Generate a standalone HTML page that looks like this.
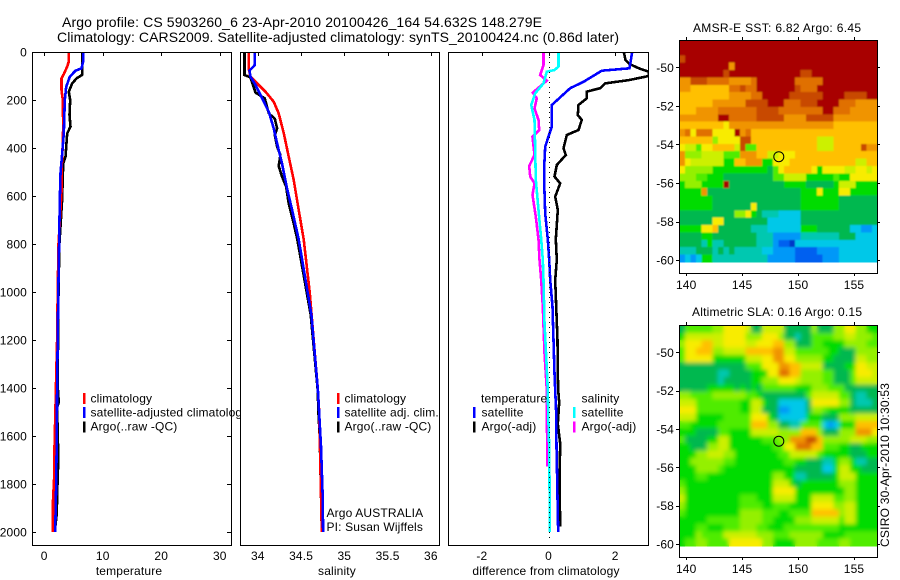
<!DOCTYPE html>
<html>
<head>
<meta charset="utf-8">
<title>Argo profile</title>
<style>
html,body{margin:0;padding:0;background:#fff;}
body{width:900px;height:580px;overflow:hidden;}
svg{display:block;}
text{font-family:"Liberation Sans",sans-serif;font-size:12px;fill:#000;letter-spacing:0.15px;}
</style>
</head>
<body>
<svg id="chart" xmlns="http://www.w3.org/2000/svg" width="900" height="580" viewBox="0 0 900 580">
<defs>
<filter id="blur-sst" filterUnits="userSpaceOnUse" x="670" y="30" width="220" height="250"><feGaussianBlur stdDeviation="0.8"/></filter>
<filter id="blur-sla" filterUnits="userSpaceOnUse" x="670" y="315" width="220" height="250"><feGaussianBlur stdDeviation="2"/></filter>
</defs>
<rect x="0" y="0" width="900" height="580" fill="#fff"/>
<text x="62" y="27" textLength="480" style="font-size:14px;letter-spacing:0">Argo profile: CS 5903260_6 23-Apr-2010 20100426_164 54.632S 148.279E</text>
<text x="57" y="42" textLength="562" style="font-size:14px;letter-spacing:0">Climatology: CARS2009. Satellite-adjusted climatology: synTS_20100424.nc (0.86d later)</text>
<text x="693" y="32" textLength="168" style="letter-spacing:0">AMSR-E SST: 6.82 Argo: 6.45</text>
<text x="692" y="316" textLength="170" style="letter-spacing:0">Altimetric SLA: 0.16 Argo: 0.15</text>
<text transform="translate(889,547) rotate(-90)" textLength="164" style="letter-spacing:0">CSIRO 30-Apr-2010 10:30:53</text>
</svg>
<script>
// ---- profile data (depth in dbar, values in axis units) ----
const depthTicks = [0,200,400,600,800,1000,1200,1400,1600,1800,2000];
const tempTicks = [0,10,20,30];
const salTicks = [34,34.5,35,35.5,36];
const salTickLabels = ['34','34.5','35','35.5','36'];
const diffTicks = [-2,0,2];
const lonTicks = [140,145,150,155];
const latTicks = [-50,-52,-54,-56,-58,-60];

const tempClimDepth = [0,40,61,92,110,158,200,311,408,478,561,800,1000,1200,1400,1460,1680,1760,1870,2000];
const tempClimValue = [4.2,4.2,3.93,3.35,2.96,2.96,3.18,3.24,3.13,3.0,3.0,2.45,2.3,2.2,2.0,1.95,1.72,1.72,1.5,1.5];
const tempSatDepth = [0,40,68,78,103,145,200,339,422,506,617,800,1000,1200,1400,1600,1800,2000];
const tempSatValue = [6.66,6.66,6.38,5.35,4.38,3.76,3.52,3.35,3.07,2.79,2.67,2.55,2.4,2.3,2.2,2.15,2.05,1.88];
const tempArgoDepth = [0,95,110,131,166,200,262,311,339,436,464,617,800,1000,1200,1400,1460,1480,1640,1735,1850,1923,2000];
const tempArgoValue = [6.5,6.5,5.52,4.78,4.2,4.44,4.32,4.5,3.93,3.64,3.24,3.05,2.6,2.45,2.35,2.33,2.5,2.2,2.35,2.35,2.2,2.15,1.8];

const salClimDepth = [0,72,103,124,165,207,256,339,436,533,658,781,1000,1200,1408,1500,1670,2000];
const salClimValue = [33.896,33.896,33.915,33.973,34.088,34.184,34.242,34.3,34.357,34.415,34.473,34.53,34.6,34.646,34.695,34.71,34.72,34.74];
const salSatDepth = [0,54,78,103,137,193,249,318,381,464,568,658,781,1095,1408,1644,1852,2000];
const salSatValue = [33.965,33.965,33.904,33.915,33.973,34.05,34.127,34.184,34.223,34.28,34.338,34.396,34.473,34.619,34.695,34.73,34.75,34.755];
const salArgoDepth = [0,96,106,169,193,256,278,318,346,394,429,475,519,561,631,714,781,1095,1408,1500,1600,2000];
const salArgoValue = [33.846,33.846,33.915,33.973,34.08,34.127,34.196,34.223,34.196,34.223,34.261,34.242,34.28,34.327,34.357,34.415,34.457,34.611,34.692,34.70,34.715,34.74];

const diffTempSatDepth = [0,68,78,124,151,221,311,394,478,547,672,781,866,950,1061,1200,1339,1408,1506,1645,1784,1923,2000];
const diffTempSatValue = [2.51,2.43,1.6,1.05,0.65,0.10,0.10,-0.10,-0.13,-0.13,-0.10,-0.02,0.02,0.05,0.12,0.15,0.18,0.2,0.23,0.24,0.26,0.28,0.29];
const diffTempArgoDepth = [0,33,50,68,82,100,117,131,151,165,193,221,263,283,325,346,401,429,471,519,547,603,658,781,866,950,1061,1200,1339,1408,1460,1550,1631,1784,1978];
const diffTempArgoValue = [2.26,2.31,2.43,2.71,3.01,3.01,2.41,1.70,1.55,1.15,1.15,0.90,0.88,1.0,0.90,0.55,0.45,0.52,0.25,0.18,0.35,0.2,0.28,0.22,0.25,0.2,0.23,0.27,0.28,0.29,0.32,0.28,0.35,0.33,0.35];
const diffSalSatDepth = [0,61,75,82,131,172,221,283,408,533,658,781,866,950,1130,1269,1408,1506,1645,1784,2000];
const diffSalSatValue = [0.30,0.30,0.18,-0.05,-0.15,-0.40,-0.52,-0.42,-0.40,-0.38,-0.30,-0.22,-0.17,-0.15,-0.12,-0.07,-0.02,-0.01,0.02,0.03,0.04];
const diffSalArgoDepth = [0,54,96,119,131,169,193,235,283,325,353,429,475,519,547,596,686,781,866,950,1061,1255,1408,1506,1728];
const diffSalArgoValue = [-0.15,-0.15,-0.25,-0.05,-0.15,-0.47,-0.35,-0.42,-0.30,-0.28,-0.48,-0.42,-0.58,-0.55,-0.42,-0.48,-0.38,-0.30,-0.27,-0.22,-0.17,-0.12,-0.05,-0.05,-0.03];

// ---- map data: colour-level per cell, rows north to south ----
const sstGrid = [
[15,15,15,15,15,15,15,15,15,15,15,15,15,15,15,15,15,15,15,15,15,15,15,15,15,15,15,15,15,15,15,15,15,15,15,15],
[15,15,15,15,15,15,15,15,15,15,15,15,15,15,15,15,15,15,15,15,15,15,15,15,15,15,15,15,15,15,15,15,15,15,15,15],
[14,15,15,15,15,15,15,15,15,15,15,15,15,15,15,15,15,15,15,15,15,15,15,15,15,15,15,15,15,15,15,15,15,15,15,15],
[15,15,15,15,15,15,15,15,15,12,15,15,15,15,15,15,15,15,15,15,15,15,15,15,15,15,15,15,15,15,15,15,15,15,15,15],
[15,15,15,15,15,15,15,15,14,15,15,15,15,15,15,15,15,15,15,15,15,15,14,14,15,15,15,15,15,15,15,15,15,15,15,15],
[12,12,14,14,14,13,13,13,13,12,12,12,12,13,15,15,15,15,15,15,15,13,13,13,13,13,15,15,15,15,15,15,15,15,15,15],
[12,12,11,11,11,11,11,11,11,13,13,14,13,13,15,15,15,15,15,15,15,14,13,13,13,15,15,15,15,15,15,15,15,15,15,15],
[11,11,11,11,11,11,11,11,11,12,12,12,12,13,13,15,15,15,15,15,14,14,14,14,14,14,15,15,15,15,14,14,14,14,15,15],
[11,11,11,11,11,11,12,12,12,12,12,12,14,14,14,14,15,15,15,13,13,13,14,14,14,15,15,15,15,13,13,13,12,12,12,12],
[11,11,11,12,12,12,12,13,13,13,13,13,13,13,14,14,14,14,13,13,13,13,13,13,13,13,15,15,13,13,13,12,12,12,12,12],
[12,12,12,12,12,12,12,15,15,13,13,13,13,13,14,14,14,14,14,12,12,12,12,14,14,14,14,14,12,12,12,12,12,12,12,12],
[11,11,11,11,11,11,11,11,10,12,12,12,12,12,12,12,12,12,12,12,12,12,12,12,12,12,12,12,11,11,11,11,11,11,11,11],
[12,13,10,13,13,13,10,10,10,10,15,12,13,11,11,11,11,11,11,11,11,11,11,11,11,11,11,11,11,11,11,11,11,11,11,11],
[11,11,11,11,11,11,8,10,10,10,10,14,14,11,11,11,11,11,11,11,11,11,11,11,11,9,9,9,11,11,11,11,11,11,11,11],
[10,9,9,7,10,10,11,11,11,11,9,14,7,7,11,11,11,11,11,11,11,11,11,11,11,9,9,9,11,11,11,11,11,14,12,12],
[12,8,8,8,9,9,9,9,7,7,7,12,12,12,11,11,9,9,10,10,10,11,11,11,11,11,11,11,11,11,11,11,11,11,11,11],
[12,10,9,9,9,9,9,9,6,6,11,11,12,12,12,6,6,10,10,10,11,11,11,11,11,11,11,11,11,11,11,11,9,9,11,11],
[10,8,8,8,8,8,6,6,6,6,6,6,6,6,6,6,5,7,10,11,11,11,11,11,10,6,10,10,10,10,9,9,10,10,9,10],
[8,8,8,7,7,6,6,6,5,5,5,5,5,5,5,5,5,7,7,9,9,9,9,6,6,6,6,6,7,6,6,10,10,10,10,10],
[6,8,8,8,6,6,6,6,15,5,5,5,5,5,5,5,5,5,5,6,6,6,6,5,5,5,5,5,6,9,9,9,6,6,6,6],
[6,6,6,6,12,5,5,5,5,5,5,5,5,5,5,5,5,5,5,5,5,5,6,6,6,10,6,6,6,10,10,6,6,6,6,6],
[6,6,6,6,6,6,5,5,5,5,5,5,5,5,5,5,5,5,5,5,5,5,6,6,6,6,6,6,6,5,5,5,5,5,5,5],
[6,6,6,6,6,6,5,5,5,5,5,5,5,10,5,5,5,5,5,5,5,5,6,6,6,6,6,6,6,5,5,5,5,5,5,5],
[5,5,5,5,5,5,5,5,5,5,8,8,10,6,5,4,4,4,3,3,3,3,5,5,5,5,5,5,5,5,5,5,5,5,5,5],
[5,5,5,5,5,5,10,10,5,5,5,5,5,5,5,5,3,3,3,3,3,3,5,5,5,5,5,5,5,5,5,5,5,5,5,5],
[6,6,6,6,10,10,11,5,5,5,5,5,5,4,4,4,3,3,3,3,3,3,6,6,6,5,5,5,5,5,5,3,3,2,2,3],
[5,5,5,5,6,6,5,5,5,5,5,5,5,5,4,4,4,2,2,2,2,2,4,4,4,4,4,4,4,5,5,5,3,3,3,3],
[5,5,5,5,4,6,4,4,5,5,5,5,5,5,4,4,4,2,1,1,0,3,3,3,3,3,3,3,3,3,3,3,3,3,3,3],
[4,4,4,5,5,5,4,5,4,5,4,4,4,4,4,3,3,2,2,2,2,1,1,1,1,2,2,2,2,3,3,3,3,3,3,3],
[2,3,2,3,6,6,4,4,4,4,4,4,4,4,4,4,2,2,2,2,2,1,1,1,1,1,2,2,2,3,3,3,3,3,3,3]
];
const slaGrid = [
[5,7,7,7,7,7,8,8,10,10,10,10,9,5,5,9,9,9,9,5,5,5,5,5,8,5,5,5,8,8,10,10,8,8,6,6],
[6,9,9,9,9,9,9,9,10,10,10,10,8,8,8,10,10,10,8,5,5,4,5,5,7,7,7,7,8,8,9,9,8,8,8,7],
[8,10,10,10,11,11,9,9,10,10,10,10,9,9,10,10,10,11,11,8,8,5,5,5,7,7,6,6,6,6,8,8,8,8,7,7],
[7,10,10,11,11,11,8,8,9,9,9,9,11,11,11,11,11,12,12,9,9,7,7,7,7,7,7,6,6,5,5,5,8,8,8,8],
[7,10,10,10,10,10,6,6,6,6,6,6,9,9,9,10,10,12,12,10,10,8,8,8,8,8,6,6,5,5,5,5,9,9,8,8],
[5,5,5,5,5,5,5,5,5,5,5,5,7,7,7,10,10,10,12,12,11,11,9,9,9,9,5,5,5,5,6,6,10,10,9,9],
[5,5,5,5,5,5,5,4,4,5,5,5,5,6,6,6,10,10,13,13,11,11,8,8,8,8,7,7,5,5,5,7,10,10,10,9],
[5,5,5,5,5,5,5,4,5,5,5,5,5,6,6,8,8,8,10,10,10,9,8,8,8,8,7,7,5,5,5,7,9,9,9,9],
[5,5,5,5,5,6,6,6,6,6,5,6,5,6,5,7,7,7,7,7,7,6,6,6,8,8,8,7,7,7,5,5,5,5,5,5],
[8,8,7,7,7,7,8,8,8,8,8,8,7,7,6,5,5,5,5,5,5,5,5,7,9,9,9,9,9,7,7,5,4,4,5,5],
[9,9,9,7,7,7,7,7,7,7,7,6,6,9,9,6,5,5,3,3,3,3,3,5,10,10,10,10,10,8,8,5,4,4,4,5],
[10,10,10,7,7,7,7,7,7,7,7,6,6,9,9,5,5,5,2,2,3,3,3,5,8,8,7,6,6,6,6,5,5,5,5,5],
[9,9,9,6,6,6,6,6,7,7,7,7,7,10,10,10,6,5,3,3,3,3,3,6,6,6,5,5,5,8,8,8,9,9,9,9],
[7,7,6,6,6,6,6,7,7,7,7,7,7,11,11,11,8,8,5,5,4,4,7,7,7,7,3,2,3,6,6,6,11,11,11,11],
[6,6,6,5,5,5,5,7,7,6,6,6,6,9,9,9,9,9,8,8,8,8,11,11,11,8,5,5,5,8,8,8,12,12,12,10],
[7,5,5,5,5,6,6,9,9,6,6,6,6,6,6,7,7,7,8,8,12,12,12,14,14,11,8,8,8,8,8,9,9,9,8,8],
[6,6,5,5,5,8,8,9,9,6,6,6,6,6,6,6,6,7,7,10,10,13,13,13,11,11,7,7,7,6,6,5,5,6,6,6],
[6,6,6,8,8,9,9,9,8,8,6,6,6,6,6,6,6,6,7,7,9,9,9,9,9,7,6,6,6,6,6,5,5,5,6,6],
[6,6,8,8,8,8,8,8,7,7,6,6,6,6,6,6,6,6,6,7,7,6,6,5,5,5,4,4,6,8,8,6,4,4,5,5],
[6,6,6,8,8,8,8,7,6,6,6,6,6,6,6,6,6,6,6,6,6,5,5,5,5,5,3,3,6,9,9,6,6,5,5,5],
[6,6,6,7,7,6,6,6,6,6,6,6,6,6,6,6,6,8,8,6,6,4,4,5,5,5,5,5,6,9,9,9,6,6,6,6],
[7,6,6,6,6,6,6,6,6,6,6,6,6,6,6,6,6,9,9,9,6,5,6,6,6,6,6,6,6,8,8,8,6,6,6,6],
[8,6,6,6,6,6,6,6,6,6,6,6,6,6,6,6,6,10,10,10,10,6,6,6,6,6,6,6,6,6,8,8,6,6,6,6],
[9,6,6,6,6,6,6,6,6,6,6,7,7,7,6,6,6,9,9,9,9,6,6,6,9,9,9,9,7,7,8,8,6,6,6,6],
[8,6,6,6,6,6,6,6,6,6,6,7,7,7,7,6,6,7,7,7,6,6,6,6,10,10,10,10,8,8,9,9,6,6,6,6],
[7,6,6,6,6,6,6,6,6,6,6,8,8,8,8,7,7,7,6,6,7,7,7,7,11,11,11,11,11,8,9,9,6,6,6,6],
[6,6,6,6,6,7,7,7,7,7,7,8,8,8,8,7,7,6,6,6,6,8,8,8,9,9,9,9,9,7,9,9,6,6,6,6],
[6,6,6,7,7,6,6,6,7,7,7,8,8,8,7,7,6,6,6,7,7,7,7,7,7,7,7,7,7,6,6,6,6,6,6,6],
[6,6,6,8,7,7,7,7,9,9,9,9,9,9,8,8,8,7,7,7,8,8,8,8,8,8,6,6,6,6,7,7,7,7,7,7],
[6,7,7,8,8,7,7,7,7,10,10,10,10,10,10,8,8,6,6,6,6,8,8,8,8,7,7,7,7,8,8,7,7,7,7,7]
];
const mapPalette = ['#0038c8','#0060f0','#0098f8','#00c8e8','#00c8b0','#00b850','#00dc00','#50ec00','#94f000','#ccf000','#f8ec00','#ffc000','#f09400','#e07000','#c84800','#a80000'];
const sstArgoPoint = [148.279,-54.632];
const slaArgoPoint = [148.279,-54.632];

// ---- drawing ----
const svg = document.getElementById('chart');
const NS = 'http://www.w3.org/2000/svg';
function make(tag, parent, attrs, txt) {
  const e = document.createElementNS(NS, tag);
  for (const k in attrs) e.setAttribute(k, attrs[k]);
  if (txt !== undefined) e.textContent = txt;
  parent.appendChild(e);
  return e;
}
function group(name) {
  const g = make('g', svg, {});
  
  
  return g;
}
function addTick(g, name, x1, y1, x2, y2) {
  const t = make('line', g, {x1:x1, y1:y1, x2:x2, y2:y2, stroke:'#000', 'stroke-width':1, 'shape-rendering':'crispEdges'});
  
  
}
function addLabel(g, name, x, y, anchor, str) {
  const t = make('text', g, {x:x, y:y, 'text-anchor':anchor}, str);
  
  
}
function addFrame(g, name, L, T, R, B) {
  const f = make('rect', g, {x:L+0.5, y:T+0.5, width:R-L, height:B-T, fill:'none', stroke:'#000', 'stroke-width':1, 'shape-rendering':'crispEdges'});
  
  
}
function addLegendBar(g, name, x, y, color) {
  const b = make('rect', g, {x:x, y:y, width:2.6, height:11, fill:color, 'shape-rendering':'crispEdges'});
  
  
}
const depthY = d => 52 + d * 0.24;
function panelScale(L, R, lo, hi) { return v => L + (v - lo) / (hi - lo) * (R - L); }

function drawPanel(key, L, R, lo, hi, xTicks, xLabels, xTitle, titleX, series) {
  const g = group(key + '-panel');
  const bg = make('rect', g, {x:L, y:52, width:R-L+1, height:494, fill:'#fff'});
  
  
  const x = panelScale(L + 0.5, R + 0.5, lo, hi);
  const clip = make('clipPath', g, {id:'clip-' + key});
  make('rect', clip, {x:L, y:52, width:R-L, height:493});
  series.forEach(s => {
    const pts = s.depth.map((d, i) => x(s.value[i]).toFixed(1) + ',' + depthY(d).toFixed(1)).join(' ');
    const p = make('polyline', g, {points:pts, fill:'none', stroke:s.color, 'stroke-width':2.6, 'stroke-linejoin':'miter', 'shape-rendering':'crispEdges', 'clip-path':'url(#clip-' + key + ')'});
    
    
  });
  addFrame(g, key + '-axes-frame', L, 52, R, 545);
  xTicks.forEach((v, i) => {
    const px = Math.round(x(v));
    addTick(g, key + '-top-tick', px + 0.5, 52, px + 0.5, 56);
    addLabel(g, key + '-x-tick-label', x(v), 560, 'middle', xLabels[i]);
  });
  addLabel(g, key + '-x-axis-title', titleX, 575, 'middle', xTitle);
  return {g:g, x:x};
}

// temperature panel
const tp = drawPanel('temperature', 32, 231, -2, 32, tempTicks, tempTicks.map(String), 'temperature', 129, [
  {name:'temperature-argo-line', color:'#000', depth:tempArgoDepth, value:tempArgoValue},
  {name:'temperature-climatology-line', color:'#f00', depth:tempClimDepth, value:tempClimValue},
  {name:'temperature-satellite-line', color:'#00f', depth:tempSatDepth, value:tempSatValue}
]);
depthTicks.forEach(d => {
  const py = Math.round(depthY(d)) + 0.5;
  addTick(tp.g, 'depth-tick-left', 32, py, 36, py);
  addTick(tp.g, 'depth-tick-right', 227, py, 231, py);
  addLabel(tp.g, 'depth-tick-label', 27, depthY(d) + 4.5, 'end', String(d));
});
addLegendBar(tp.g, 'legend-climatology-swatch', 83, 393, '#f00');
addLegendBar(tp.g, 'legend-satellite-swatch', 83, 407, '#00f');
addLegendBar(tp.g, 'legend-argo-swatch', 83, 421.5, '#000');
addLabel(tp.g, 'legend-climatology-label', 90.5, 402.5, 'start', 'climatology');
addLabel(tp.g, 'legend-satellite-label', 90.5, 416.5, 'start', 'satellite-adjusted climatology');
addLabel(tp.g, 'legend-argo-label', 90.5, 430.5, 'start', 'Argo(..raw -QC)');

// salinity panel
const sp = drawPanel('salinity', 240, 439, 33.8, 36.1, salTicks, salTickLabels, 'salinity', 337, [
  {name:'salinity-argo-line', color:'#000', depth:salArgoDepth, value:salArgoValue},
  {name:'salinity-climatology-line', color:'#f00', depth:salClimDepth, value:salClimValue},
  {name:'salinity-satellite-line', color:'#00f', depth:salSatDepth, value:salSatValue}
]);
addLegendBar(sp.g, 'salinity-legend-climatology-swatch', 337, 393, '#f00');
addLegendBar(sp.g, 'salinity-legend-satellite-swatch', 337, 407, '#00f');
addLegendBar(sp.g, 'salinity-legend-argo-swatch', 337, 421.5, '#000');
addLabel(sp.g, 'salinity-legend-climatology-label', 344.5, 402.5, 'start', 'climatology');
addLabel(sp.g, 'salinity-legend-satellite-label', 344.5, 416.5, 'start', 'satellite adj. clim.');
addLabel(sp.g, 'salinity-legend-argo-label', 344.5, 430.5, 'start', 'Argo(..raw -QC)');
addLabel(sp.g, 'float-country-note', 326.5, 517, 'start', 'Argo AUSTRALIA');
addLabel(sp.g, 'principal-investigator-note', 326.5, 531, 'start', 'PI: Susan Wijffels');

// difference panel
const dp = drawPanel('difference', 448, 648, -3, 3, diffTicks, diffTicks.map(String), 'difference from climatology', 546, [
  {name:'difference-salinity-argo-line', color:'#f0f', depth:diffSalArgoDepth, value:diffSalArgoValue},
  {name:'difference-temperature-argo-line', color:'#000', depth:diffTempArgoDepth, value:diffTempArgoValue},
  {name:'difference-temperature-satellite-line', color:'#00f', depth:diffTempSatDepth, value:diffTempSatValue},
  {name:'difference-salinity-satellite-line', color:'#0ff', depth:diffSalSatDepth, value:diffSalSatValue}
]);
const zeroLine = make('line', dp.g, {x1:Math.round(dp.x(0)) + 0.5, y1:52, x2:Math.round(dp.x(0)) + 0.5, y2:538, stroke:'#000', 'stroke-width':1, 'stroke-dasharray':'1 4', 'shape-rendering':'crispEdges'});


addLabel(dp.g, 'legend-temperature-heading', 481, 402.5, 'start', 'temperature');
addLabel(dp.g, 'legend-salinity-heading', 581.5, 402.5, 'start', 'salinity');
addLegendBar(dp.g, 'legend-temperature-satellite-swatch', 473, 407, '#00f');
addLegendBar(dp.g, 'legend-temperature-argo-swatch', 473, 421.5, '#000');
addLegendBar(dp.g, 'legend-salinity-satellite-swatch', 573, 407, '#0ff');
addLegendBar(dp.g, 'legend-salinity-argo-swatch', 573, 421.5, '#f0f');
addLabel(dp.g, 'legend-temperature-satellite-label', 481.5, 416.5, 'start', 'satellite');
addLabel(dp.g, 'legend-temperature-argo-label', 481.5, 430.5, 'start', 'Argo(-adj)');
addLabel(dp.g, 'legend-salinity-satellite-label', 581.5, 416.5, 'start', 'satellite');
addLabel(dp.g, 'legend-salinity-argo-label', 581.5, 430.5, 'start', 'Argo(-adj)');

// maps
function drawMap(key, T, B, grid, point) {
  const L = 679, R = 877;
  const g = group(key + '-map');
  const lonX = panelScale(L + 0.5, R + 0.5, 139.4, 157.1);
  const latY = lat => T + 0.5 + (-48.6 - lat) / 12.1 * (B - T);
  const nRows = grid.length;
  const nCols = grid[0].length;
  const lonStep = (157.1 - 139.4) / nCols;
  const latStep = 11.5 / nRows;
  const cells = make('g', g, {id:key + '-cells'});
  
  
  grid.forEach((row, r) => {
    row.forEach((level, c) => {
      const x0 = lonX(139.4 + c * lonStep);
      const x1 = lonX(139.4 + (c + 1) * lonStep);
      const y0 = latY(-48.6 - r * latStep);
      const y1 = latY(-48.6 - (r + 1) * latStep);
      const cell = make('rect', cells, {x:x0.toFixed(2), y:y0.toFixed(2), width:(x1 - x0 + 0.6).toFixed(2), height:(y1 - y0 + 0.6).toFixed(2), fill:mapPalette[level], 'shape-rendering':'crispEdges'});
      
      
    });
  });
  // soft overlay clipped to the image area, so cell edges blend like the resampled source
  const imgTop = latY(-48.6);
  const imgBottom = latY(-48.6 - 11.5);
  const imgClip = make('clipPath', g, {id:key + '-image-clip'});
  make('rect', imgClip, {x:L, y:imgTop, width:R - L, height:imgBottom - imgTop});
  const clipWrap = make('g', g, {'clip-path':'url(#' + key + '-image-clip)'});
  
  
  const soft = make('use', clipWrap, {href:'#' + key + '-cells', filter:'url(#blur-' + key + ')'});
  
  
  addFrame(g, key + '-axes-frame', L, T, R, B);
  lonTicks.forEach(v => {
    const px = Math.round(lonX(v)) + 0.5;
    addTick(g, key + '-top-tick', px, T - 3, px, T);
    addTick(g, key + '-bottom-tick', px, B, px, B + 3);
    addLabel(g, key + '-lon-label', lonX(v), B + 16, 'middle', String(v));
  });
  latTicks.forEach(v => {
    const py = Math.round(latY(v)) + 0.5;
    addTick(g, key + '-left-tick', L - 3, py, L, py);
    addTick(g, key + '-right-tick', R, py, R + 3, py);
    addLabel(g, key + '-lat-label', 674, latY(v) + 4.5, 'end', String(v));
  });
  const marker = make('circle', g, {cx:lonX(point[0]).toFixed(1), cy:latY(point[1]).toFixed(1), r:5, fill:'none', stroke:'#000', 'stroke-width':1});
  
  
}
drawMap('sst', 40, 273, sstGrid, sstArgoPoint);
drawMap('sla', 325, 557, slaGrid, slaArgoPoint);
</script>
</body>
</html>
